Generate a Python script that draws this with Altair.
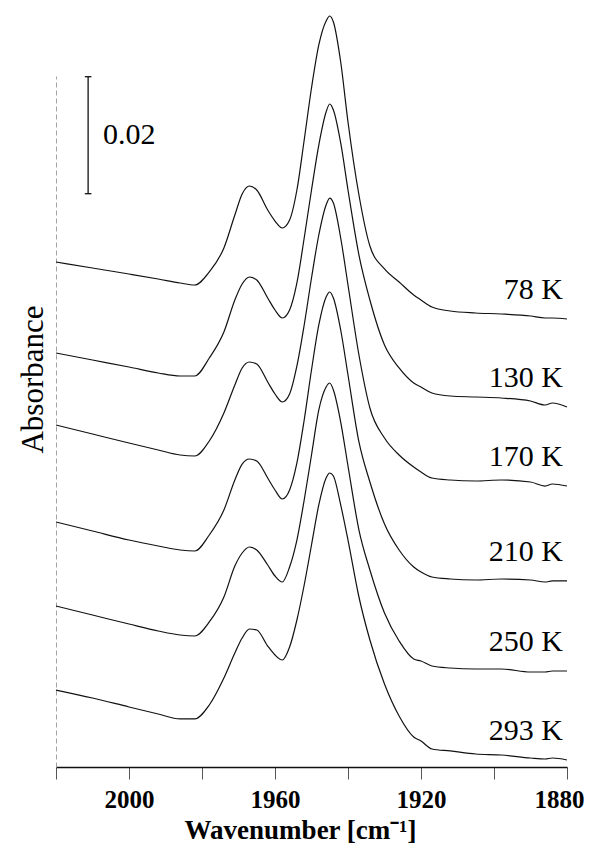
import altair as alt
import pandas as pd

# Wavenumber grid (cm-1)
wavenumbers = [2020, 2010, 2000, 1992, 1986, 1982, 1978, 1974, 1971, 1969,
               1967, 1965, 1962, 1960, 1958, 1956, 1954, 1952, 1950, 1948,
               1946, 1945, 1944, 1942, 1940, 1937, 1934, 1930, 1926, 1922,
               1920, 1917, 1912, 1905, 1898, 1890, 1886, 1884, 1880]

temperatures = ["78 K", "130 K", "170 K", "210 K", "250 K", "293 K"]

# Offset (stacked) absorbance spectra
abs_78 = [0.08632, 0.08530, 0.08427, 0.08342, 0.08274, 0.08239, 0.08462, 0.08872, 0.09436, 0.09795,
          0.09932, 0.09863, 0.09521, 0.09333, 0.09214, 0.09350, 0.09863, 0.10718, 0.11607, 0.12342,
          0.12752, 0.12838, 0.12735, 0.12051, 0.11026, 0.09778, 0.08906, 0.08513, 0.08291, 0.08068,
          0.07983, 0.07863, 0.07795, 0.07761, 0.07744, 0.07709, 0.07675, 0.07675, 0.07658]
abs_130 = [0.07077, 0.06957, 0.06838, 0.06735, 0.06684, 0.06684, 0.06991, 0.07436, 0.07983, 0.08256,
           0.08376, 0.08325, 0.08017, 0.07812, 0.07675, 0.07812, 0.08274, 0.09043, 0.09863, 0.10632,
           0.11197, 0.11333, 0.11231, 0.10667, 0.09863, 0.08752, 0.07983, 0.07214, 0.06821, 0.06564,
           0.06496, 0.06393, 0.06342, 0.06325, 0.06308, 0.06256, 0.06188, 0.06222, 0.06154]
abs_170 = [0.05846, 0.05692, 0.05538, 0.05419, 0.05333, 0.05316, 0.05573, 0.06051, 0.06530, 0.06821,
           0.06923, 0.06889, 0.06581, 0.06376, 0.06239, 0.06376, 0.06855, 0.07556, 0.08359, 0.09094,
           0.09607, 0.09726, 0.09641, 0.09043, 0.08239, 0.07043, 0.06137, 0.05624, 0.05333, 0.05128,
           0.05043, 0.04940, 0.04906, 0.04889, 0.04906, 0.04872, 0.04803, 0.04838, 0.04803]
abs_210 = [0.04188, 0.04034, 0.03880, 0.03778, 0.03709, 0.03692, 0.03966, 0.04393, 0.04906, 0.05179,
           0.05265, 0.05231, 0.04940, 0.04735, 0.04581, 0.04735, 0.05197, 0.05932, 0.06786, 0.07556,
           0.08034, 0.08120, 0.08017, 0.07470, 0.06701, 0.05556, 0.04872, 0.04154, 0.03709, 0.03419,
           0.03333, 0.03248, 0.03214, 0.03197, 0.03214, 0.03197, 0.03162, 0.03180, 0.03180]
abs_250 = [0.02752, 0.02598, 0.02444, 0.02325, 0.02256, 0.02239, 0.02479, 0.02906, 0.03436, 0.03658,
           0.03761, 0.03709, 0.03453, 0.03265, 0.03162, 0.03419, 0.03880, 0.04564, 0.05333, 0.06103,
           0.06496, 0.06564, 0.06444, 0.05897, 0.05145, 0.04051, 0.03368, 0.02632, 0.02154, 0.01846,
           0.01812, 0.01726, 0.01692, 0.01675, 0.01675, 0.01624, 0.01624, 0.01641, 0.01641]
abs_293 = [0.01316, 0.01179, 0.01026, 0.00906, 0.00821, 0.00821, 0.01060, 0.01521, 0.01949, 0.02205,
           0.02359, 0.02342, 0.02068, 0.01915, 0.01829, 0.02051, 0.02513, 0.03111, 0.03795, 0.04479,
           0.04940, 0.05026, 0.04974, 0.04479, 0.03880, 0.02906, 0.02171, 0.01419, 0.00872, 0.00513,
           0.00444, 0.00308, 0.00274, 0.00222, 0.00205, 0.00154, 0.00137, 0.00154, 0.00120]

series = [abs_78, abs_130, abs_170, abs_210, abs_250, abs_293]

# Scale bar (absorbance)
bar_value = 0.02
bar_label = "0.02"
bar_wavenumber = 2011.2
bar_bottom = 0.098

x_tick_values = [2020, 2000, 1980, 1960, 1940, 1920, 1900, 1880]

rows = []
for t, vals in zip(temperatures, series):
    for w, a in zip(wavenumbers, vals):
        rows.append({"T": t, "w": w, "A": a})
df = pd.DataFrame(rows)

ends = df[df["w"] == wavenumbers[-1]]

SERIF = "Liberation Serif"

xscale = alt.Scale(domain=[1880, 2020], reverse=True, nice=False)
yscale = alt.Scale(domain=[0, 0.11812], nice=False, zero=False)

lines = alt.Chart(df).mark_line(
    color="#111", strokeWidth=1.2, interpolate="monotone"
).encode(
    x=alt.X("w:Q", scale=xscale,
            axis=alt.Axis(values=x_tick_values, title="Wavenumber [cm⁻¹]",
                          labelExpr="datum.value % 40 == 0 ? datum.label : ''",
                          format="d", labelOverlap=False, labelFlush=False,
                          labelOffset={"condition": {"test": "datum.value == 1880", "value": -8},
                                       "value": 0},
                          grid=False, tickSize=12, tickColor="#555", tickWidth=1,
                          domainColor="#111", domainWidth=1.3,
                          labelFont=SERIF, labelFontSize=25, labelFontWeight="bold",
                          labelColor="#000", labelPadding=8,
                          titleFont=SERIF, titleFontSize=27, titleFontWeight="bold",
                          titleColor="#000", titleX=244, titleY=71,
                          titleBaseline="alphabetic", titleAlign="center")),
    y=alt.Y("A:Q", scale=yscale,
            axis=alt.Axis(title="Absorbance", labels=False, ticks=False, grid=False,
                          domainColor="#999", domainWidth=0.9, domainDash=[5, 3],
                          titleFont=SERIF, titleFontSize=31, titleFontWeight="normal",
                          titleColor="#000", titleX=-14, titleY=303,
                          titleBaseline="alphabetic", titleAlign="center", titleAngle=-90)),
    detail="T:N",
)

labels = alt.Chart(ends).mark_text(
    align="right", baseline="alphabetic", dx=-4, dy=-20,
    font=SERIF, fontSize=30, color="#000"
).encode(x=alt.X("w:Q", scale=xscale), y=alt.Y("A:Q", scale=yscale), text="T:N")

bar_df = pd.DataFrame({"w": [bar_wavenumber], "y1": [bar_bottom], "y2": [bar_bottom + bar_value],
                       "ym": [bar_bottom + bar_value / 2], "label": [bar_label]})
caps_df = pd.DataFrame({"wa": [bar_wavenumber + 0.9, bar_wavenumber + 0.9],
                        "wb": [bar_wavenumber - 0.9, bar_wavenumber - 0.9],
                        "y": [bar_bottom, bar_bottom + bar_value]})

bar = alt.Chart(bar_df).mark_rule(color="#111", strokeWidth=1.3).encode(
    x=alt.X("w:Q", scale=xscale), y=alt.Y("y1:Q", scale=yscale), y2="y2:Q")
caps = alt.Chart(caps_df).mark_rule(color="#111", strokeWidth=1.3).encode(
    x=alt.X("wa:Q", scale=xscale), x2="wb:Q", y=alt.Y("y:Q", scale=yscale))
bar_text = alt.Chart(bar_df).mark_text(
    align="left", baseline="middle", dx=15, font=SERIF, fontSize=30, color="#000"
).encode(x=alt.X("w:Q", scale=xscale), y=alt.Y("ym:Q", scale=yscale), text="label:N")

chart = alt.layer(lines, labels, bar, caps, bar_text).properties(
    width=511, height=691,
    padding={"left": 48, "top": 68, "right": 17, "bottom": 76},
    autosize=alt.AutoSizeParams(type="none"),
).configure(background="white").configure_view(stroke=None)

chart.save("out.html", embed_options={"renderer": "svg", "actions": False})
